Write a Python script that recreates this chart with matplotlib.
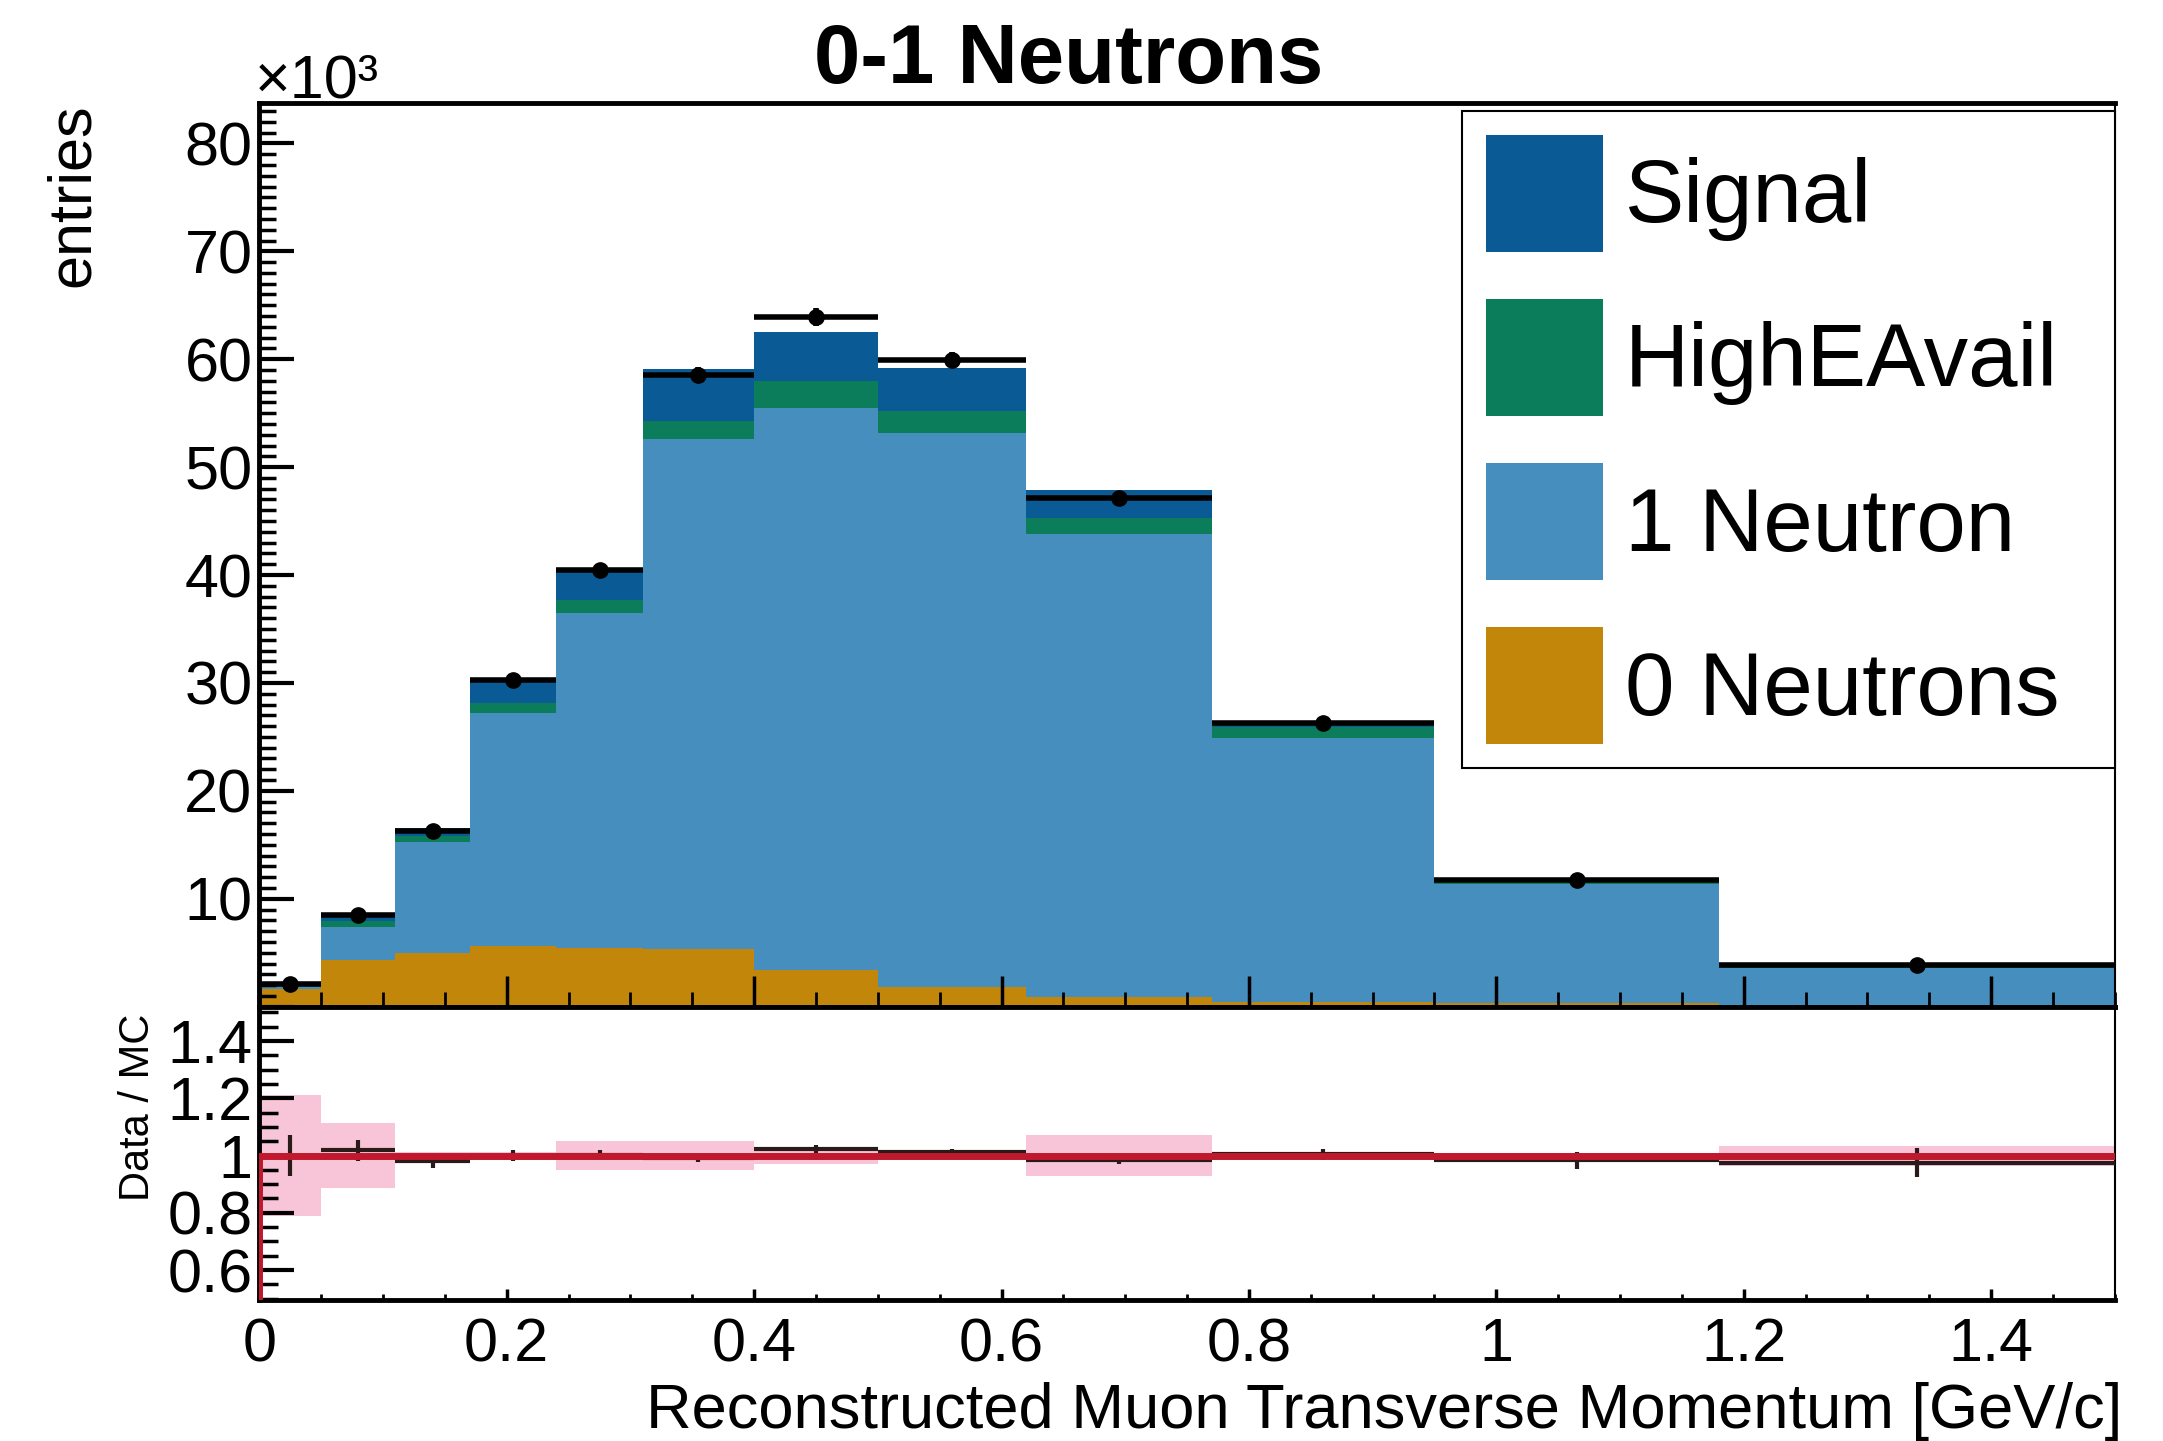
import numpy as np
import matplotlib
matplotlib.use("Agg")
import matplotlib.pyplot as plt
from matplotlib.patches import Patch
from matplotlib.ticker import MultipleLocator, FuncFormatter

plt.rcParams['font.family'] = ['Liberation Sans', 'DejaVu Sans']

# bin edges in GeV/c
edges = [0, 0.05, 0.11, 0.17, 0.24, 0.31, 0.40, 0.50, 0.62, 0.77, 0.95, 1.18, 1.50]

# stacked MC components (x10^3 entries), bottom to top
zero_n = [1.6, 4.3, 5.0, 5.6, 5.4, 5.3, 3.4, 1.8, 0.9, 0.4, 0.3, 0.2]
one_n = [0.4, 3.1, 10.3, 21.6, 31.1, 47.3, 52.1, 51.4, 42.9, 24.5, 11.1, 3.4]
high_e = [0.05, 0.5, 0.5, 0.9, 1.2, 1.7, 2.5, 2.0, 1.5, 1.05, 0.2, 0.15]
signal = [0.05, 0.45, 0.8, 2.2, 2.7, 4.8, 4.5, 4.0, 2.6, 0.25, 0.3, 0.25]

# data (x10^3 entries)
data = [2.1, 8.5, 16.3, 30.3, 40.5, 58.5, 63.9, 59.9, 47.1, 26.3, 11.7, 3.9]
data_err = [0.15, 0.3, 0.4, 0.55, 0.65, 0.75, 0.8, 0.75, 0.7, 0.5, 0.35, 0.2]

# fractional MC uncertainty shown in the ratio panel
mc_frac_err = [0.21, 0.115, 0.012, 0.012, 0.05, 0.05, 0.03, 0.012, 0.07, 0.01, 0.01, 0.035]

labels = ["Signal", "HighEAvail", "1 Neutron", "0 Neutrons"]
colors = {"Signal": "#0a5a95", "HighEAvail": "#0b7d5a", "1 Neutron": "#468ebd", "0 Neutrons": "#c2860a"}

edges = np.array(edges)
centers = 0.5 * (edges[1:] + edges[:-1])
halfw = 0.5 * np.diff(edges)

fig = plt.figure(figsize=(21.63, 14.41), dpi=100)
ax = fig.add_axes([0.1199, 0.3014, 0.8578, 0.6268])
rax = fig.add_axes([0.1199, 0.0976, 0.8578, 0.2038], sharex=ax)

# stacked histogram
base = np.zeros(len(centers))
for name, vals in [("0 Neutrons", zero_n), ("1 Neutron", one_n),
                   ("HighEAvail", high_e), ("Signal", signal)]:
    vals = np.array(vals)
    ax.stairs(base + vals, edges, baseline=base, fill=True,
              color=colors[name], lw=0)
    base = base + vals
mc_total = base

ax.errorbar(centers, data, xerr=halfw, yerr=data_err, fmt='o', color='black',
            ms=11, elinewidth=4, capsize=0, zorder=5)

ax.set_xlim(0, 1.5)
ax.set_ylim(0, 83.7)
ax.yaxis.set_major_locator(MultipleLocator(10))
ax.yaxis.set_minor_locator(MultipleLocator(1))
ax.xaxis.set_major_locator(MultipleLocator(0.2))
ax.xaxis.set_minor_locator(MultipleLocator(0.05))
ax.yaxis.set_major_formatter(FuncFormatter(lambda v, p: "" if v == 0 else f"{v:g}"))
ax.tick_params(axis='both', which='both', direction='in', top=False, right=False,
               labelbottom=False, labelsize=44, pad=5)
ax.tick_params(axis='y', which='major', length=25, width=3)
ax.tick_params(axis='y', which='minor', length=12, width=2.5)
ax.tick_params(axis='x', which='major', length=22, width=2.5)
ax.tick_params(axis='x', which='minor', length=11, width=2)
for side in ['left', 'bottom', 'top']:
    ax.spines[side].set_linewidth(3.5)
ax.spines['right'].set_linewidth(1.5)

handles = [Patch(facecolor=colors[l], edgecolor='none') for l in labels]
leg = ax.legend(handles, labels, loc='upper left', mode='expand',
                bbox_to_anchor=(0.648, 0.0, 0.352, 0.992), fontsize=64,
                handlelength=1.32, handleheight=1.65, labelspacing=0.53,
                handletextpad=0.25, borderpad=0.27, borderaxespad=0,
                fancybox=False, edgecolor='black', framealpha=1)
leg.get_frame().set_linewidth(1.5)

# ratio panel
ratio = np.array(data) / mc_total
ratio_err = np.array(data_err) / mc_total
err = np.array(mc_frac_err)
ones = mc_total / mc_total
rax.stairs(1 + err, edges, baseline=1 - err, fill=True, color='#f8c4d8', lw=0)
rax.errorbar(centers, ratio, xerr=halfw, yerr=ratio_err, fmt='none',
             ecolor='#2a1a1a', elinewidth=3, capsize=0, zorder=3)
# MC / MC line, dropping to zero at the first bin edge as ROOT draws it
rax.step(np.r_[edges[0], edges], np.r_[0, ones, ones[-1]], where='post',
         color='#c0182c', lw=5, zorder=4)

rax.set_ylim(0.494, 1.52)
rax.yaxis.set_major_locator(MultipleLocator(0.2))
rax.yaxis.set_minor_locator(MultipleLocator(0.05))
rax.yaxis.set_major_formatter(FuncFormatter(lambda v, p: f"{v:g}"))
rax.xaxis.set_major_formatter(FuncFormatter(lambda v, p: f"{v:g}"))
rax.tick_params(axis='both', which='both', direction='in', top=False, right=False,
                labelsize=44)
rax.tick_params(axis='y', which='major', length=25, width=3, pad=5)
rax.tick_params(axis='y', which='minor', length=14, width=2.5)
rax.tick_params(axis='x', which='major', length=8, width=2.5, pad=12)
rax.tick_params(axis='x', which='minor', length=4, width=2)
for side in ['left', 'bottom', 'top']:
    rax.spines[side].set_linewidth(3.5)
rax.spines['right'].set_linewidth(1.5)

# labels
fig.text(0.494, 0.958, "0-1 Neutrons", ha='center', va='center',
         fontsize=60, fontweight='bold')
fig.text(0.118, 0.932, "\u00d710\u00b3", ha='left', va='baseline', fontsize=44)
fig.text(0.034, 0.928, "entries", rotation=90, ha='center', va='top', fontsize=44)
fig.text(0.064, 0.2967, "Data / MC", rotation=90, ha='center', va='top', fontsize=30)
fig.text(0.981, 0.009, "Reconstructed Muon Transverse Momentum [GeV/c]",
         ha='right', va='baseline', fontsize=45.5)

fig.savefig("out.png", dpi=100)
